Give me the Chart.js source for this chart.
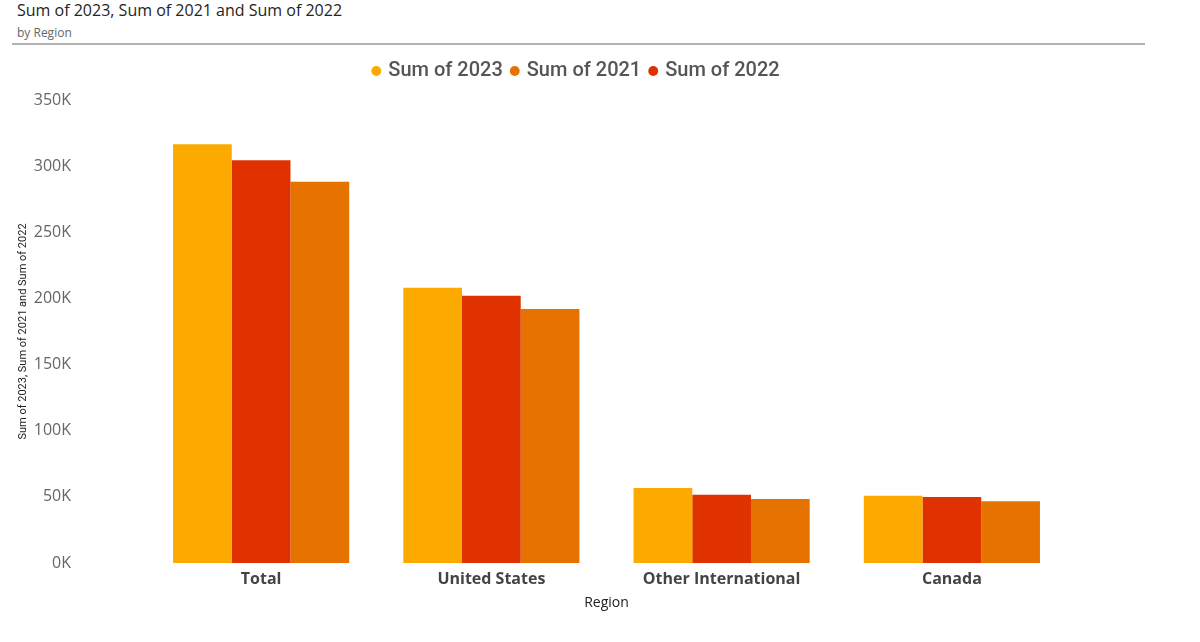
<!DOCTYPE html>
<html>
<head>
<meta charset="utf-8">
<script src="https://cdn.jsdelivr.net/npm/chart.js@4/dist/chart.umd.min.js"></script>
<style>
    html, body { margin: 0; padding: 0; background: #fff; }
    #wrap { position: relative; width: 1200px; height: 642px; overflow: hidden; }
    #title { position: absolute; left: 17px; top: -1px; font: 16px "Open Sans", sans-serif; color: #252423; }
    #subtitle { position: absolute; left: 17px; top: 24px; font: 12px "Open Sans", sans-serif; color: #666; }
    #rule { position: absolute; left: 12px; top: 43px; width: 1133px; height: 2px; background: #b3b3b3; }
    #chart { position: absolute; left: 0; top: 0; }
</style>
</head>
<body>
<div id="wrap">
    <div id="title">Sum of 2023, Sum of 2021 and Sum of 2022</div>
    <div id="subtitle">by Region</div>
    <div id="rule"></div>
    <canvas id="chart" width="1200" height="642"></canvas>
</div>
<script>
// 지역별 합계
const categories = ['Total', 'United States', 'Other International', 'Canada'];
const sum2023 = [316500, 208100, 56700, 50900];
const sum2022 = [304400, 202100, 51600, 49900];
const sum2021 = [288200, 192000, 48400, 46600];
const legendOrder = ['Sum of 2023', 'Sum of 2021', 'Sum of 2022'];
const yTicks = [0, 50000, 100000, 150000, 200000, 250000, 300000, 350000];

// 범례를 살짝 오른쪽으로
const legendShift = {
    id: 'legendShift',
    afterLayout(chart) {
        const lg = chart.legend;
        if (!lg) return;
        const dx = 577 - (lg.left + lg.right) / 2;
        lg.left += dx;
        lg.right += dx;
    }
};

document.addEventListener("DOMContentLoaded", function() {
    const ctx = document.getElementById("chart");
    new Chart(ctx, {
        type: 'bar',
        data: {
            labels: categories,
            datasets: [
                { label: 'Sum of 2023', data: sum2023, backgroundColor: '#FCAA00' },
                { label: 'Sum of 2022', data: sum2022, backgroundColor: '#E03100' },
                { label: 'Sum of 2021', data: sum2021, backgroundColor: '#E67300' }
            ]
        },
        options: {
            responsive: false,
            animation: false,
            layout: { padding: { top: 51, left: 13, right: 133, bottom: 29 } },
            datasets: { bar: { categoryPercentage: 0.765, barPercentage: 1 } },
            plugins: {
                tooltip: { enabled: false },
                legend: {
                    position: 'top',
                    labels: {
                        usePointStyle: true,
                        pointStyle: 'circle',
                        boxWidth: 4,
                        boxHeight: 7,
                        padding: 10,
                        color: '#555',
                        font: { family: 'Roboto', size: 20, weight: '500' },
                        sort: (a, b) => legendOrder.indexOf(a.text) - legendOrder.indexOf(b.text)
                    }
                }
            },
            scales: {
                // 범례 아래 여백용 빈 축
                spacer: {
                    type: 'category',
                    position: 'top',
                    grid: { display: false, drawTicks: false },
                    border: { display: false },
                    ticks: { display: false },
                    afterFit: axis => { axis.height = 9; }
                },
                x: {
                    grid: { display: false, drawTicks: false },
                    border: { display: false },
                    afterFit: axis => { axis.height = 50; },
                    ticks: {
                        padding: 7,
                        color: '#444',
                        font: { family: 'Open Sans', size: 16, weight: '700' }
                    },
                    title: {
                        display: true,
                        text: 'Region',
                        color: '#222',
                        padding: { top: 0, bottom: 2 },
                        font: { family: 'Open Sans', size: 14 }
                    }
                },
                y: {
                    min: 0,
                    max: 350000,
                    afterBuildTicks: axis => { axis.ticks = yTicks.map(v => ({ value: v })); },
                    afterFit: axis => {
                        axis.width = 133;
                        axis.paddingTop = 10;
                        axis.paddingBottom = 10;
                    },
                    grid: { display: false, drawTicks: false },
                    border: { display: false },
                    ticks: {
                        padding: 75,
                        color: '#666',
                        font: { family: 'Open Sans', size: 16 },
                        callback: v => (v / 1000) + 'K'
                    },
                    title: {
                        display: true,
                        text: 'Sum of 2023, Sum of 2021 and Sum of 2022',
                        color: '#222',
                        padding: 4,
                        font: { family: 'Roboto', size: 11 }
                    }
                }
            }
        },
        plugins: [legendShift]
    });
});
</script>
</body>
</html>
